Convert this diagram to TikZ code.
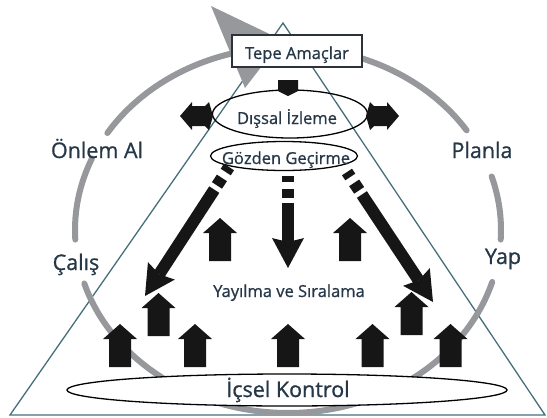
\documentclass[tikz,border=0pt]{standalone}
\usepackage{fontspec}
\setmainfont{Open Sans}[FakeBold=0.9]
\usetikzlibrary{shapes.geometric,calc}
\definecolor{txt}{RGB}{38,56,72}
\definecolor{tri}{RGB}{70,110,125}
\definecolor{arcg}{RGB}{150,152,156}
\definecolor{blk}{RGB}{22,22,22}
\definecolor{boxc}{RGB}{45,50,58}
\tikzset{
  lbl/.style={text=txt, inner sep=0pt, anchor=base},
  big/.style={lbl, font=\fontsize{21.5}{24}\selectfont},
  mid/.style={lbl, font=\fontsize{16.5}{20}\selectfont},
  ovl/.style={ellipse, draw=black, line width=1.3pt, inner sep=0pt},
  garc/.style={arcg, line width=6pt, line cap=round},
  uparr/.pic={\fill[blk] (0,0) -- (17,15) -- (11,15) -- (11,43) -- (-11,43) -- (-11,15) -- (-17,15) -- cycle;}
}
\newcommand{\dgarrow}[2]{%
  \coordinate (hb) at ($(#2)!30pt!(#1)$);
  \coordinate (hn) at ($(#2)!26pt!(#1)$);
  \draw[blk, line width=12pt, dash pattern=on 6pt off 7pt on 9pt off 5pt on 400pt] (#1) -- ($(#2)!26pt!(#1)$);
  \fill[blk] (#2) -- ($(hb)!16pt!90:(#2)$) -- (hn) -- ($(hb)!16pt!-90:(#2)$) -- cycle;}
\begin{document}
\begin{tikzpicture}[x=1pt,y=-1pt]
\useasboundingbox (0,0) rectangle (547,418);
% triangle
\coordinate (apex) at (283,23);
\coordinate (bl) at (10,415);
\coordinate (br) at (545,415);
\draw[tri, line width=1.3pt, line join=miter] (apex) -- (bl) -- (br) -- cycle;
% gray cycle
\draw[garc] plot[domain=33:148, samples=60, smooth] ({288+213*cos(\x)},{230-183*sin(\x)});
\draw[garc] plot[domain=157:183, samples=20, smooth] ({288+213*cos(\x)},{230-183*sin(\x)});
\draw[garc] plot[domain=197:343.5, samples=80, smooth] ({288+213*cos(\x)},{230-183*sin(\x)});
\draw[garc] plot[domain=-3:17, samples=20, smooth] ({288+213*cos(\x)},{230-183*sin(\x)});
\fill[arcg] (211,6) -- (282,40) -- (245,88) -- cycle;
% top box
\node[draw=boxc, line width=1.8pt, fill=white, minimum width=130pt, minimum height=32pt, inner sep=0pt] (tepe) at (297,51) {};
% ellipses
\node[ovl, minimum width=155pt, minimum height=48pt] (dis) at (290,114) {};
\node[ovl, minimum width=147pt, minimum height=29pt] (goz) at (284,156) {};
\node[ovl, fill=white, minimum width=440pt, minimum height=32pt] (ic) at (287,390) {};
% block from box to ellipse
\fill[blk] (278,80) -- (298,80) -- (298,91) -- (288,96) -- (278,91) -- cycle;
% side double arrows
\fill[blk] (180,116) -- (192,102) -- (192,106) -- (205,106) -- (209,102) -- (213,116) -- (209,130) -- (205,126) -- (192,126) -- (192,130) -- cycle;
\fill[blk] (399,116) -- (387,102) -- (387,106) -- (374,106) -- (370,102) -- (366,116) -- (370,130) -- (374,126) -- (387,126) -- (387,130) -- cycle;
% dashed arrows
\coordinate (sL) at (229,167);
\coordinate (tL) at (145,296);
\coordinate (sC) at (288,176);
\coordinate (tC) at (288,268);
\coordinate (sR) at (347,172);
\coordinate (tR) at (433,302);
\dgarrow{sL}{tL}
\dgarrow{sC}{tC}
\dgarrow{sR}{tR}
% up arrows
\pic at (220,218) {uparr};
\pic at (350,218) {uparr};
\pic at (158.5,293) {uparr};
\pic at (411.5,292) {uparr};
\pic at (120,324) {uparr};
\pic at (195,324) {uparr};
\pic at (288,324) {uparr};
\pic at (372.5,324) {uparr};
\pic at (450.5,324) {uparr};
% texts
\node[mid] (tepet) at (297,59) {Tepe Amaçlar};
\node[mid] (dist) at (287,124) {Dışsal İzleme};
\node[mid] (gozt) at (286,164) {Gözden Geçirme};
\node[mid] (yay) at (289,297) {Yayılma ve Sıralama};
\node[big] (ict) at (288,397) {İçsel Kontrol};
\node[big] (onlem) at (97,158) {Önlem Al};
\node[big] (calis) at (76,270) {Çalış};
\node[big] (planla) at (482,158) {Planla};
\node[big] (yap) at (503,264) {Yap};
\end{tikzpicture}
\end{document}
